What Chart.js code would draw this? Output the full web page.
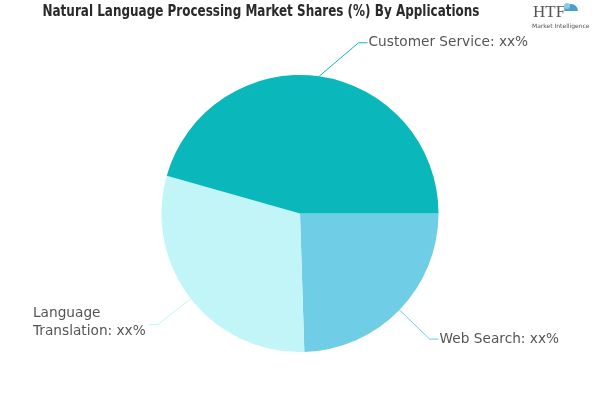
<!DOCTYPE html>
<html>
<head>
<meta charset="utf-8">
<script src="https://cdn.jsdelivr.net/npm/chart.js@4"></script>
<style>
  html, body { margin: 0; padding: 0; background: #fff; }
  #wrap { width: 600px; height: 400px; position: relative; }
</style>
</head>
<body>
<div id="wrap"><canvas id="chart1"></canvas></div>
<script>
// data
const labels = ['Web Search', 'Language Translation', 'Customer Service']
const shares = [24.5, 29.9, 45.6]
const labelText = ['Web Search: xx%', ['Language', 'Translation: xx%'], 'Customer Service: xx%']
const colors = ['#6fcee6', '#c2f5f8', '#0ab8bc']
const lineColors = ['#6fcee6', '#c2f5f8', '#0ab8bc']
const titleText = 'Natural Language Processing Market Shares (%) By Applications'

// small nudges to the leader elbows (angle shift in degrees)
const elbowShift = [0, 0, 11]

const calloutPlugin = {
  id: 'callouts',
  afterDatasetsDraw(chart) {
    const ctx = chart.ctx
    const arcs = chart.getDatasetMeta(0).data
    ctx.save()
    ctx.font = '13.7px "DejaVu Sans"'
    ctx.textBaseline = 'middle'
    arcs.forEach((arc, i) => {
      const mid = (arc.startAngle + arc.endAngle) / 2
      const r = arc.outerRadius
      const x0 = arc.x + Math.cos(mid) * r
      const y0 = arc.y + Math.sin(mid) * r
      const a2 = mid + elbowShift[i] * Math.PI / 180
      const x1 = arc.x + Math.cos(a2) * (r + 42)
      const y1 = arc.y + Math.sin(a2) * (r + 42)
      const right = x1 >= arc.x
      const x2 = right ? x1 + 9 : x1 - 9
      ctx.strokeStyle = lineColors[i]
      ctx.lineWidth = 1
      ctx.beginPath()
      ctx.moveTo(x0, y0)
      ctx.lineTo(x1, y1)
      ctx.lineTo(x2, y1)
      ctx.stroke()
      ctx.fillStyle = '#555'
      const t = labelText[i]
      if (Array.isArray(t)) {
        ctx.textAlign = 'left'
        const w = Math.max(...t.map(s => ctx.measureText(s).width))
        const lx = x2 - 3 - w
        ctx.fillText(t[0], lx, y1 - 11)
        ctx.fillText(t[1], lx, y1 + 7)
      } else {
        ctx.textAlign = right ? 'left' : 'right'
        ctx.fillText(t, right ? x2 + 1 : x2 - 1, y1)
      }
    })

    // title
    ctx.fillStyle = '#2a2a2a'
    ctx.textAlign = 'center'
    ctx.font = 'bold 15px "Liberation Sans Narrow", "DejaVu Sans Condensed", sans-serif'
    ctx.fillText(titleText, 261, 12, 437)

    // logo
    ctx.fillStyle = '#555'
    ctx.font = '17px "Liberation Serif", serif'
    ctx.textAlign = 'left'
    ctx.fillText('HTF', 533, 13)
    ctx.fillStyle = '#4a9fd0'
    ctx.beginPath()
    ctx.arc(571, 11, 7, Math.PI, 2 * Math.PI)
    ctx.fill()
    ctx.fillStyle = '#8ccbe6'
    ctx.beginPath()
    ctx.arc(567, 6, 3, 0, 2 * Math.PI)
    ctx.fill()
    ctx.fillStyle = '#555'
    ctx.font = '6px "DejaVu Sans"'
    ctx.fillText('Market Intelligence', 532, 26)
    ctx.restore()
  }
}

new Chart(document.getElementById('chart1'), {
  type: 'pie',
  data: {
    labels: labels,
    datasets: [{
      data: shares,
      backgroundColor: colors,
      borderWidth: 0
    }]
  },
  options: {
    responsive: true,
    maintainAspectRatio: false,
    animation: false,
    rotation: 90,
    layout: { padding: { top: 75, bottom: 48 } },
    plugins: {
      legend: { display: false },
      tooltip: { enabled: false },
      title: { display: false }
    }
  },
  plugins: [calloutPlugin]
})
</script>
</body>
</html>
